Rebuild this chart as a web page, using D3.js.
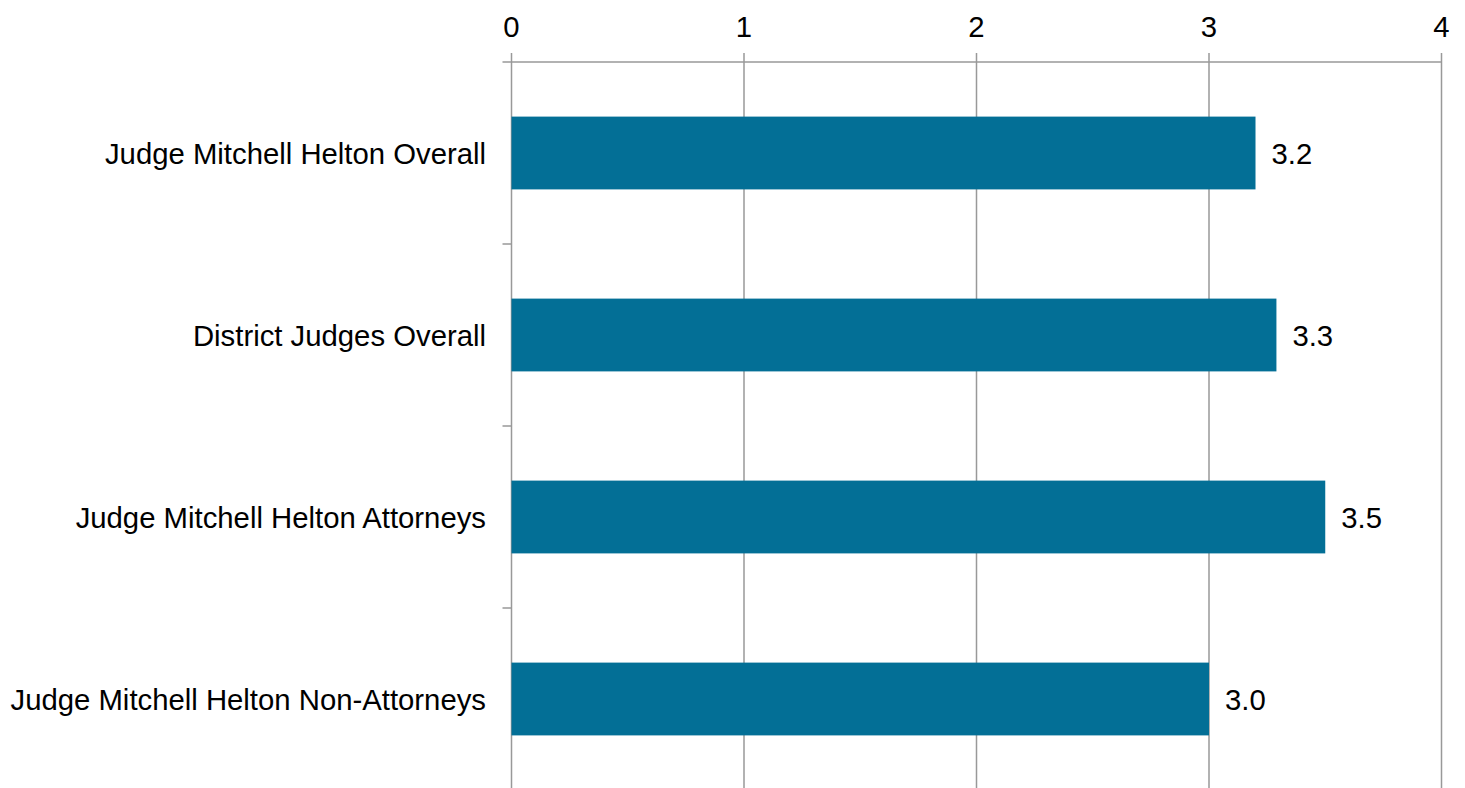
<!DOCTYPE html>
<html><head><meta charset="utf-8">
<script src="https://cdn.jsdelivr.net/npm/d3@7"></script>
<style>body{margin:0;background:#fff;} text{font-family:"Liberation Sans",Arial,sans-serif;}</style>
</head><body>
<svg id="c" width="1465" height="788"></svg>
<script>
const categories = ["Judge Mitchell Helton Overall","District Judges Overall","Judge Mitchell Helton Attorneys","Judge Mitchell Helton Non-Attorneys"];
const values = [3.2, 3.29, 3.5, 3.0];
const xTicks = [0,1,2,3,4];

(function(){
const svg = d3.select("#c");
const mLeft = 511.5, mRight = 1441.5, mTop = 62, mBottom = 790;
const fs = 29.3;
const x = d3.scaleLinear().domain([0,4]).range([mLeft,mRight]);
const y = d3.scaleBand().domain(categories).range([mTop,mBottom]).paddingInner(0.6).paddingOuter(0.3);
const gridColor = "#999";

svg.append("g").selectAll("line").data(xTicks).join("line")
  .attr("x1",d=>x(d)).attr("x2",d=>x(d)).attr("y1",mTop-9).attr("y2",788)
  .attr("stroke",gridColor).attr("stroke-width",1.5);
svg.append("line").attr("x1",mLeft-9).attr("x2",mRight).attr("y1",mTop).attr("y2",mTop)
  .attr("stroke",gridColor).attr("stroke-width",1.5);
const step = y.step();
const bounds = d3.range(1,categories.length).map(i=>mTop+i*step);
svg.append("g").selectAll("line").data(bounds).join("line")
  .attr("x1",mLeft-9).attr("x2",mLeft).attr("y1",d=>d).attr("y2",d=>d)
  .attr("stroke",gridColor).attr("stroke-width",1.5);
svg.append("g").selectAll("text").data(xTicks).join("text")
  .attr("x",d=>x(d)).attr("y",37).attr("text-anchor","middle")
  .attr("font-size",fs).attr("fill","#000").text(d=>d);
svg.append("g").selectAll("rect").data(values).join("rect")
  .attr("x",x(0)).attr("y",(d,i)=>y(categories[i]))
  .attr("width",d=>x(d)-x(0)).attr("height",y.bandwidth())
  .attr("fill","#036f96");
svg.append("g").selectAll("text").data(values).join("text")
  .attr("x",d=>x(d)+16).attr("y",(d,i)=>y(categories[i])+y.bandwidth()/2)
  .attr("dy","0.36em").attr("font-size",fs).attr("fill","#000")
  .text(d=>d3.format(".1f")(d));
svg.append("g").selectAll("text").data(categories).join("text")
  .attr("x",486).attr("y",d=>y(d)+y.bandwidth()/2)
  .attr("dy","0.36em").attr("text-anchor","end").attr("font-size",fs).attr("fill","#000")
  .text(d=>d);
})();
</script>
</body></html>
